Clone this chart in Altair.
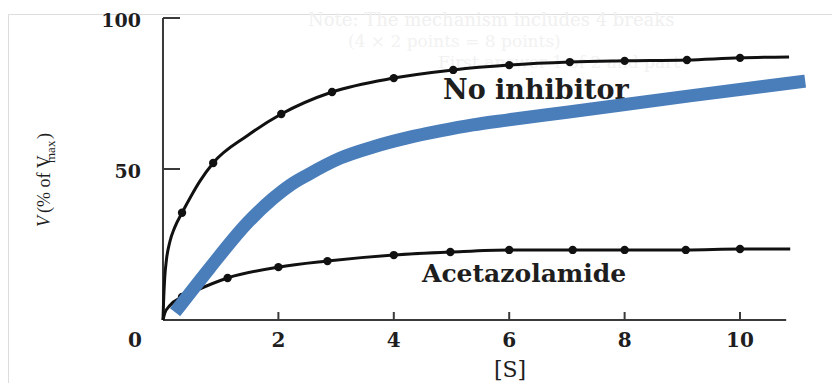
import altair as alt
import pandas as pd

# ---- data ----
noinh_pts_x = [0.33, 0.87, 2.05, 2.93, 4.0, 5.03, 6.0, 7.05, 8.0, 9.08, 10.0]
noinh_pts_y = [35.5, 52.0, 68.2, 75.5, 80.1, 82.8, 84.4, 85.4, 85.8, 86.1, 86.8]
noinh_curve_x = [0, 0.01, 0.03, 0.06, 0.12, 0.2, 0.33, 0.5, 0.64, 0.87, 1.46, 2.05, 2.93, 4.0, 5.03, 6.0, 7.05, 8.0, 9.08, 10.0, 10.85]
noinh_curve_y = [0, 6.0, 14.0, 20.0, 26.0, 30.5, 35.5, 41.5, 46.0, 52.0, 61.0, 68.2, 75.5, 80.1, 82.8, 84.4, 85.4, 85.8, 86.1, 86.8, 87.1]

acet_pts_x = [0.33, 1.12, 2.0, 2.85, 4.0, 4.98, 6.0, 7.1, 8.0, 9.06, 10.0]
acet_pts_y = [7.6, 13.9, 17.5, 19.5, 21.5, 22.5, 23.2, 23.2, 23.2, 23.2, 23.5]
acet_curve_x = [0, 0.03, 0.12, 0.33, 0.59, 1.12, 2.0, 2.85, 4.0, 4.98, 6.0, 7.1, 8.0, 9.06, 10.0, 10.87]
acet_curve_y = [0, 2.2, 4.8, 7.6, 9.9, 13.9, 17.5, 19.5, 21.5, 22.5, 23.2, 23.2, 23.2, 23.2, 23.5, 23.5]

blue_x = [0.21, 0.81, 1.46, 1.91, 2.20, 2.50, 3.07, 3.64, 4.23, 4.80, 5.37, 5.96, 7.00, 9.13, 11.13]
blue_y = [2.6, 17.2, 32.1, 40.3, 44.6, 48.0, 53.6, 57.3, 60.3, 62.6, 64.6, 66.2, 68.8, 74.2, 79.1]

x_tick_values = [2, 4, 6, 8, 10]
x_tick_labels = ["2", "4", "6", "8", "10"]
y_tick_values = [50, 100]
y_tick_labels = ["50", "100"]
x_axis_end = 10.8
y_axis_end = 100

# ---- layout ----
W, H = 824, 369
PAD_TOP = 6
xs = alt.Scale(domain=[-2.686, 11.594], nice=False, zero=False)
ys = alt.Scale(domain=[-20.86, 101.32], nice=False, zero=False)
FONT = "DejaVu Serif"
INK = "#1e1e1e"


def X(f):
    return alt.X(f, type="quantitative", scale=xs, axis=None)


def Y(f):
    return alt.Y(f, type="quantitative", scale=ys, axis=None)


noinh_curve = pd.DataFrame({"x": noinh_curve_x, "y": noinh_curve_y})
noinh_pts = pd.DataFrame({"x": noinh_pts_x, "y": noinh_pts_y})
acet_curve = pd.DataFrame({"x": acet_curve_x, "y": acet_curve_y})
acet_pts = pd.DataFrame({"x": acet_pts_x, "y": acet_pts_y})
blue = pd.DataFrame({"x": blue_x, "y": blue_y})

xt = pd.DataFrame({"v": x_tick_values, "lab": x_tick_labels, "z": 0})
yt = pd.DataFrame({"v": y_tick_values, "lab": y_tick_labels, "z": 0})
xaxis = pd.DataFrame({"x": [0], "x2": [x_axis_end], "y": [0]})
yaxis = pd.DataFrame({"x": [0], "y": [0], "y2": [y_axis_end]})
origin = pd.DataFrame({"x": [0], "y": [0], "lab": ["0"]})

axis_x = alt.Chart(xaxis).mark_rule(color="#3a3a3a", strokeWidth=2).encode(
    x=X("x"), x2="x2", y=Y("y"))
axis_y = alt.Chart(yaxis).mark_rule(color="#3a3a3a", strokeWidth=2).encode(
    x=X("x"), y=Y("y"), y2="y2")
xticks = alt.Chart(xt).mark_rule(color="#3a3a3a", strokeWidth=2, y2Offset=-8).encode(
    x=X("v"), y=Y("z"), y2="z")
yticks = alt.Chart(yt).mark_rule(color="#3a3a3a", strokeWidth=2, x2Offset=17).encode(
    x=X("z"), x2="z", y=Y("v"))
xlabels = alt.Chart(xt).mark_text(font=FONT, fontSize=20, fontWeight="bold", dy=27,
                                  baseline="alphabetic", align="center", color=INK).encode(
    x=X("v"), y=Y("z"), text="lab")
ylabels = alt.Chart(yt).mark_text(font=FONT, fontSize=19, fontWeight="bold", dx=-22, dy=9,
                                  baseline="alphabetic", align="right", color=INK).encode(
    x=X("z"), y=Y("v"), text="lab")
olabel = alt.Chart(origin).mark_text(font=FONT, fontSize=20, fontWeight="bold", dx=-28, dy=27,
                                     baseline="alphabetic", align="center", color=INK).encode(
    x=X("x"), y=Y("y"), text="lab")

l_noinh = alt.Chart(noinh_curve).mark_line(color="#111", strokeWidth=3, interpolate="monotone").encode(
    x=X("x"), y=Y("y"))
p_noinh = alt.Chart(noinh_pts).mark_point(filled=True, color="#111", size=70, opacity=1,
                                          shape="circle").encode(x=X("x"), y=Y("y"))
l_acet = alt.Chart(acet_curve).mark_line(color="#111", strokeWidth=3, interpolate="monotone").encode(
    x=X("x"), y=Y("y"))
p_acet = alt.Chart(acet_pts).mark_point(filled=True, color="#111", size=70, opacity=1,
                                        shape="circle").encode(x=X("x"), y=Y("y"))
l_blue = alt.Chart(blue).mark_line(color="#4a7ebb", strokeWidth=13, interpolate="monotone",
                                   strokeCap="butt").encode(x=X("x"), y=Y("y"))


# ---- text (pixel positions given in page coordinates, converted to plot coordinates) ----
def txt(s, px, py, size, color=INK, angle=0, align="left", baseline="alphabetic",
        font=FONT, style="normal", weight="normal"):
    return alt.Chart(pd.DataFrame({"t": [s]})).mark_text(
        font=font, fontSize=size, color=color, angle=angle, align=align,
        baseline=baseline, fontStyle=style, fontWeight=weight).encode(
        x=alt.value(px - 8), y=alt.value(py - 8 - PAD_TOP), text="t")


ghost = [
    txt("Note: The mechanism includes 4 breaks", 308, 26, 18, color="#f0f0f0"),
    txt("(4 × 2 points = 8 points)", 348, 47, 17, color="#f2f2f2"),
    txt("First answer 1 of 2 and part", 438, 68, 17, color="#f2f2f2"),
]

annots = [
    txt("No inhibitor", 443, 99, 27, weight="bold"),
    txt("Acetazolamide", 422, 282, 25, weight="bold"),
    txt("[S]", 510, 377, 22, align="center"),
    txt("V", 50, 227, 18, angle=270, font="Liberation Serif", style="italic"),
    txt("(% of V", 50, 213, 18, angle=270, font="Liberation Serif"),
    txt("max", 55, 163, 13, angle=270, font="Liberation Serif"),
    txt(")", 50, 139, 18, angle=270, font="Liberation Serif"),
]

chart = alt.layer(
    *ghost,
    axis_x, axis_y, xticks, yticks, xlabels, ylabels, olabel,
    l_noinh, p_noinh, l_acet, p_acet,
    *annots,
    l_blue,
).properties(
    width=W, height=H,
    autosize=alt.AutoSizeParams(type="none"),
    padding={"top": PAD_TOP, "left": 0, "right": 0, "bottom": 0},
).configure_view(stroke=None).configure(background="white")

chart.save("out.html", embed_options={"renderer": "svg", "actions": False})
